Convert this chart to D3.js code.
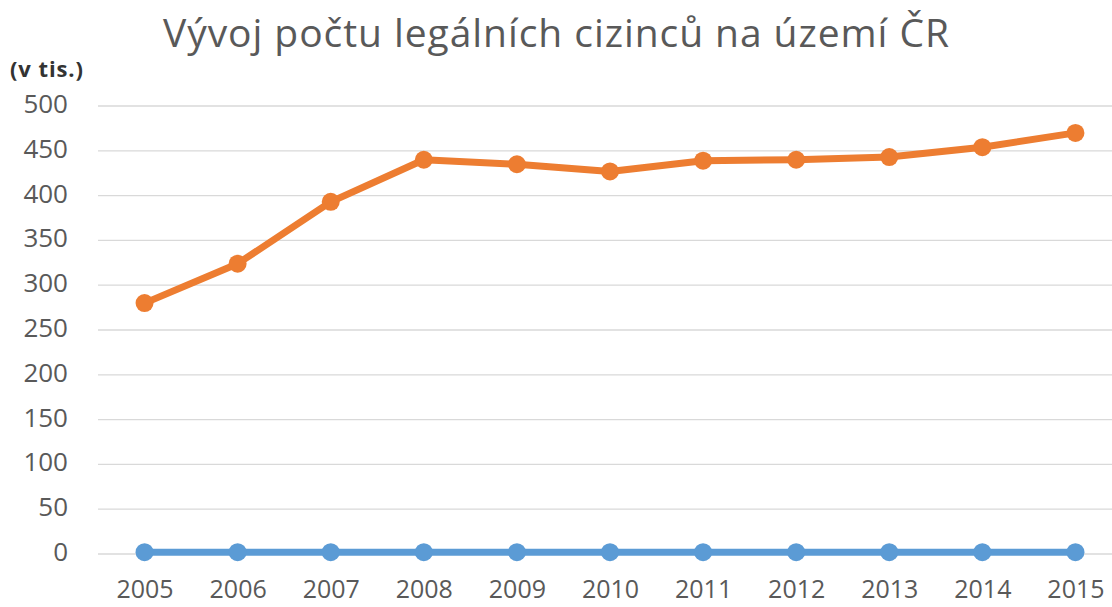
<!DOCTYPE html>
<meta charset="utf-8">
<style>
  body { margin: 0; background: #fff; }
  svg text { font-family: "Open Sans", "Noto Sans", sans-serif; }
  .grid line { stroke: #d9d9d9; stroke-width: 1.3; }
  .tick text { fill: #595959; font-size: 26px; }
  .xaxis .tick text { font-size: 25px; }
</style>
<body></body>
<script src="https://cdn.jsdelivr.net/npm/d3@7"></script>
<script>
  const years = ['2005', '2006', '2007', '2008', '2009', '2010', '2011', '2012', '2013', '2014', '2015'];
  const foreigners = [280, 324, 393, 440, 435, 427, 439, 440, 443, 454, 470];
  const yearSeries = [2, 2, 2, 2, 2, 2, 2, 2, 2, 2, 2];
  const yTicks = [0, 50, 100, 150, 200, 250, 300, 350, 400, 450, 500];

  const w = 1112, h = 607;
  const l = 98, r = 1122, t = 106, b = 554;

  const svg = d3.select('body').append('svg')
    .attr('width', w).attr('height', h);

  const x = d3.scalePoint().domain(years).range([l, r]).padding(0.5);
  const y = d3.scaleLinear().domain([0, 500]).range([b, t]);

  // horizontal gridlines
  svg.append('g').attr('class', 'grid')
    .selectAll('line')
    .data(yTicks)
    .join('line')
    .attr('x1', l).attr('x2', r)
    .attr('y1', d => y(d)).attr('y2', d => y(d));

  // y axis labels
  svg.append('g')
    .attr('transform', `translate(${l - 30}, 0)`)
    .call(d3.axisLeft(y).tickValues(yTicks).tickSize(0).tickPadding(0))
    .call(g => g.select('.domain').remove())
    .selectAll('text').attr('dy', '0.25em');

  // x axis labels
  svg.append('g').attr('class', 'xaxis')
    .attr('transform', `translate(0, ${b + 44})`)
    .call(d3.axisBottom(x).tickSize(0).tickPadding(0))
    .call(g => g.select('.domain').remove())
    .selectAll('text').attr('dy', 0);

  const line = d3.line().x((d, i) => x(years[i])).y(d => y(d));

  const series = [
    {values: yearSeries, color: '#5b9bd5'},
    {values: foreigners, color: '#ed7d31'},
  ];

  for (const s of series) {
    svg.append('path')
      .datum(s.values)
      .attr('fill', 'none')
      .attr('stroke', s.color)
      .attr('stroke-width', 7)
      .attr('stroke-linejoin', 'round')
      .attr('d', line);
    svg.append('g')
      .selectAll('circle')
      .data(s.values)
      .join('circle')
      .attr('cx', (d, i) => x(years[i]))
      .attr('cy', d => y(d))
      .attr('r', 9)
      .attr('fill', s.color);
  }

  svg.append('text')
    .attr('x', 556).attr('y', 47)
    .attr('text-anchor', 'middle')
    .attr('fill', '#595959')
    .attr('textLength', 786)
    .style('font-size', '39px')
    .text('Vývoj počtu legálních cizinců na území ČR');

  svg.append('text')
    .attr('x', 10).attr('y', 77)
    .attr('fill', '#333')
    .attr('textLength', 73)
    .style('font-size', '22px')
    .style('font-weight', 'bold')
    .text('(v tis.)');
</script>
